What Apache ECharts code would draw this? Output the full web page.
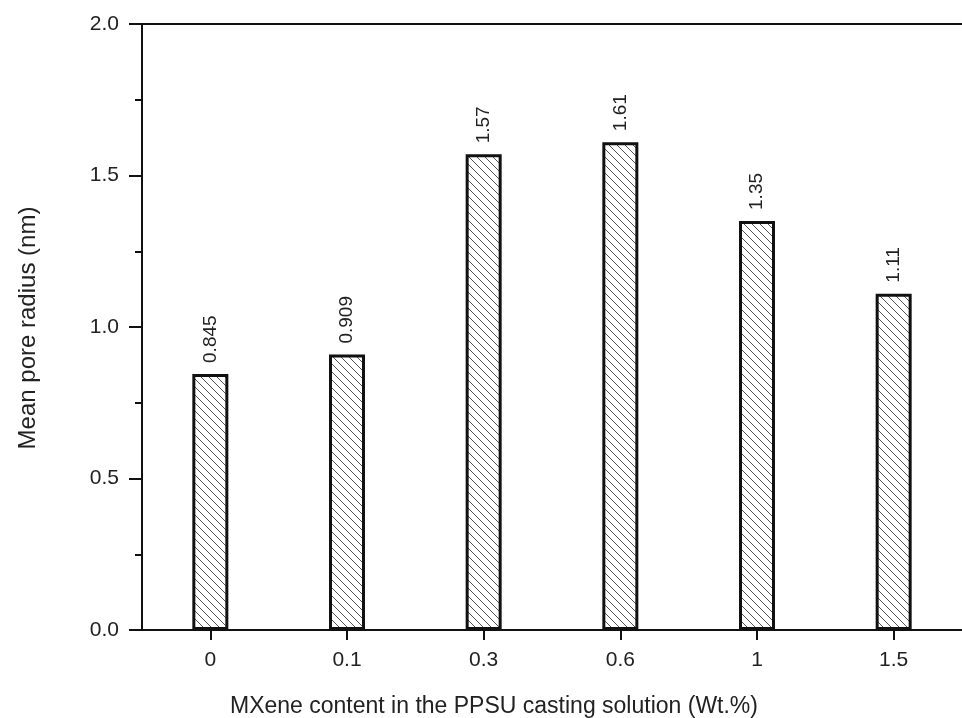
<!DOCTYPE html>
<html>
<head>
<meta charset="utf-8">
<script src="https://cdn.jsdelivr.net/npm/echarts@6/dist/echarts.min.js"></script>
<style>
html,body{margin:0;padding:0;background:#fff;}
#c{width:962px;height:718px;}
</style>
</head>
<body>
<div id="c"></div>
<script>
var categories = ['0', '0.1', '0.3', '0.6', '1', '1.5'];
var poreRadius = [0.845, 0.909, 1.57, 1.61, 1.35, 1.11];
var valueLabels = ['0.845', '0.909', '1.57', '1.61', '1.35', '1.11'];
var yTicks = [0, 0.5, 1.0, 1.5, 2.0];

function hatch() {
  var s = 8;
  var cv = document.createElement('canvas');
  cv.width = s; cv.height = s;
  var ctx = cv.getContext('2d');
  ctx.fillStyle = '#ffffff';
  ctx.fillRect(0, 0, s, s);
  ctx.strokeStyle = '#555555';
  ctx.lineWidth = 1;
  ctx.beginPath();
  ctx.moveTo(-1, -1); ctx.lineTo(s + 1, s + 1);
  ctx.moveTo(-1, s - 1); ctx.lineTo(1, s + 1);
  ctx.moveTo(s - 1, -1); ctx.lineTo(s + 1, 1);
  ctx.stroke();
  return cv;
}

var chart = echarts.init(document.getElementById('c'), null, {renderer: 'canvas'});
var font = '"Liberation Sans", Arial, sans-serif';
chart.setOption({
  animation: false,
  backgroundColor: '#ffffff',
  grid: {left: 142, right: -7, top: 24, bottom: 88, containLabel: false},
  xAxis: {
    type: 'category',
    data: categories,
    axisLine: {show: true, lineStyle: {color: '#111', width: 2}},
    axisTick: {show: true, alignWithLabel: true, length: 10, lineStyle: {color: '#111', width: 2}},
    axisLabel: {color: '#222', fontSize: 21, fontFamily: font, margin: 20},
    splitLine: {show: false}
  },
  yAxis: [{
    type: 'value',
    min: yTicks[0], max: yTicks[yTicks.length - 1], interval: 0.5,
    axisLine: {show: true, lineStyle: {color: '#111', width: 2}},
    axisTick: {show: true, inside: false, length: 13, lineStyle: {color: '#111', width: 2}},
    minorTick: {show: true, splitNumber: 2, length: 7, lineStyle: {color: '#111', width: 2}},
    axisLabel: {color: '#222', fontSize: 21, fontFamily: font, margin: 23,
      formatter: function (v) { return v.toFixed(1); }},
    splitLine: {show: false}
  }],
  graphic: [
    {type: 'line', shape: {x1: 142, y1: 24, x2: 962, y2: 24}, style: {stroke: '#111', lineWidth: 2}},
    {type: 'text', x: 494, y: 707, style: {text: 'MXene content in the PPSU casting solution (Wt.%)',
      fill: '#222', font: '23px ' + font, textAlign: 'center', textVerticalAlign: 'middle'}},
    {type: 'text', x: 28, y: 328, rotation: Math.PI / 2, style: {text: 'Mean pore radius (nm)',
      fill: '#222', font: '24px ' + font, textAlign: 'center', textVerticalAlign: 'middle'}}
  ],
  series: [{
    type: 'bar',
    data: poreRadius,
    barWidth: 36,
    itemStyle: {color: {image: hatch(), repeat: 'repeat'}, borderColor: '#111', borderWidth: 3},
    label: {
      show: true, position: 'top', rotate: 90, align: 'left', verticalAlign: 'middle',
      distance: 11, color: '#222', fontSize: 19, fontFamily: font,
      formatter: function (p) { return valueLabels[p.dataIndex]; }
    }
  }]
});
</script>
</body>
</html>
